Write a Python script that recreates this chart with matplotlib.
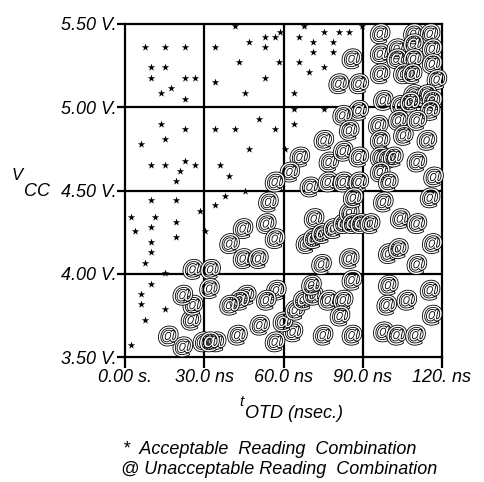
import matplotlib
matplotlib.use("Agg")
import matplotlib.pyplot as plt
import matplotlib.patheffects as pe

# Acceptable (*) points: t_OTD (ns), Vcc (V)
ok_t = [7.5, 15.1, 22.8, 9.7, 15.1, 9.7, 22.8, 26.6, 13.5, 17.3, 22.8,
        41.5, 34.2, 46.8, 52.9, 56.7, 52.9, 58.5, 43.3, 58.2, 34.2, 52.9, 45.3,
        67.8, 75.2, 81.0, 84.8, 89.9, 65.8, 71.1, 78.7, 71.1, 78.7, 65.8, 75.2, 69.6, 63.8, 64.1, 75.2,
        13.5, 22.8, 5.9, 15.1, 9.7, 15.1, 22.8, 26.6, 20.9, 19.2,
        34.2, 41.5, 50.9, 56.7, 47.1, 60.5, 35.9, 39.5, 45.6, 63.8,
        2.2, 3.9, 9.7, 11.5, 9.7, 9.7, 9.7, 7.5, 19.2, 19.2, 19.2, 28.5, 30.4, 15.1, 34.2, 37.7,
        9.7, 5.9, 5.9, 7.5, 15.1, 2.2]
ok_v = [5.36, 5.36, 5.36, 5.24, 5.24, 5.175, 5.175, 5.175, 5.085, 5.115, 5.05,
        5.485, 5.36, 5.39, 5.42, 5.42, 5.36, 5.45, 5.27, 5.27, 5.15, 5.175, 5.085,
        5.485, 5.45, 5.45, 5.45, 5.485, 5.42, 5.39, 5.39, 5.33, 5.33, 5.27, 5.24, 5.21, 5.085, 4.99, 4.99,
        4.90, 4.87, 4.78, 4.81, 4.655, 4.655, 4.68, 4.655, 4.62, 4.56,
        4.87, 4.87, 4.93, 4.87, 4.75, 4.75, 4.655, 4.59, 4.50, 4.90,
        4.34, 4.255, 4.44, 4.34, 4.28, 4.19, 4.13, 4.065, 4.44, 4.31, 4.22, 4.375, 4.255, 4.005, 4.41, 4.465,
        3.94, 3.88, 3.82, 3.725, 3.79, 3.57]

# Unacceptable (@) points
bad_t = [96.5, 109.1, 115.4, 96.5, 102.8, 109.1, 116.2, 102.8, 109.1, 116.2,
         96.5, 105.3, 108.6, 118.0, 97.7, 109.1, 114.2, 116.2, 104.1, 107.8, 115.4,
         85.8, 80.8, 88.4, 88.4, 82.3,
         84.8, 75.2, 66.1, 77.1, 82.5, 88.4, 62.3, 56.7, 69.9, 76.8, 82.5, 88.4,
         95.8, 96.5, 96.5, 103.4, 105.3, 110.4, 114.2, 99.0, 101.5, 110.4, 96.5, 99.6, 116.7,
         54.2, 44.6, 39.5, 44.6, 50.4, 53.4, 56.7, 71.5, 68.4, 71.1, 74.3, 78.7, 82.5, 84.8,
         86.3, 85.8, 88.9, 92.7, 74.3, 84.8, 97.7, 115.4, 104.1, 110.4, 116.2, 99.6, 103.4,
         110.4, 25.6, 32.3,
         85.8, 99.6, 115.4, 99.0, 106.6, 116.2, 97.7, 102.8, 109.9, 85.8, 74.9, 63.5,
         59.7, 64.3, 67.3, 71.1, 76.8, 82.5, 81.3, 70.5, 56.7, 57.2, 53.4, 45.8, 43.3,
         39.5, 50.9, 42.5, 34.4, 29.4, 31.9, 21.8, 16.3, 24.9, 25.6, 21.8, 31.9]
bad_v = [5.45, 5.45, 5.45, 5.33, 5.36, 5.39, 5.36, 5.30, 5.30, 5.27,
         5.21, 5.21, 5.21, 5.175, 5.05, 5.085, 5.085, 5.05, 5.02, 5.04, 4.99,
         5.30, 5.15, 5.15, 4.99, 4.96,
         4.87, 4.81, 4.71, 4.68, 4.745, 4.71, 4.62, 4.56, 4.53, 4.56, 4.56, 4.56,
         4.90, 4.81, 4.71, 4.93, 4.84, 4.93, 4.81, 4.70, 4.71, 4.68, 4.62, 4.56, 4.59,
         4.44, 4.28, 4.19, 4.10, 4.10, 4.31, 4.22, 4.34, 4.19, 4.22, 4.25, 4.28, 4.31, 4.375,
         4.465, 4.31, 4.31, 4.31, 4.065, 4.10, 4.44, 4.465, 4.34, 4.31, 4.19, 4.13, 4.16,
         4.065, 4.035, 4.035,
         3.97, 3.94, 3.91, 3.82, 3.85, 3.76, 3.66, 3.64, 3.64, 3.64, 3.64, 3.66,
         3.72, 3.79, 3.85, 3.88, 3.85, 3.85, 3.755, 3.94, 3.60, 3.91, 3.85, 3.88, 3.85,
         3.82, 3.70, 3.64, 3.60, 3.60, 3.60, 3.57, 3.635, 3.73, 3.82, 3.88, 3.92]

x_ticks = [0, 30, 60, 90, 120]
x_labels = ["0.00 s.", "30.0 ns", "60.0 ns", "90.0 ns", "120. ns"]
y_ticks = [3.5, 4.0, 4.5, 5.0, 5.5]
y_labels = ["3.50 V.", "4.00 V.", "4.50 V.", "5.00 V.", "5.50 V."]

FONT = "Liberation Sans"

fig = plt.figure(figsize=(4.84, 4.82), dpi=100)
ax = fig.add_axes([125 / 484, 1 - 357 / 482, 317 / 484, 333 / 482])
ax.set_xlim(0, 120)
ax.set_ylim(3.5, 5.5)

for xv in x_ticks[1:-1]:
    ax.axvline(xv, color="black", lw=1.6, zorder=1)
for yv in y_ticks[1:-1]:
    ax.axhline(yv, color="black", lw=1.6, zorder=1)
for s in ax.spines.values():
    s.set_linewidth(1.6)

ax.scatter(ok_t, ok_v, marker="*", s=32, color="black", linewidths=0, zorder=3)
outline = [pe.withStroke(linewidth=1.2, foreground="black")]
for t, v in zip(bad_t, bad_v):
    ax.text(t, v, "@", ha="center", va="center_baseline", fontsize=16,
            family=FONT, style="italic", color="white", zorder=4,
            path_effects=outline)

ax.set_xticks(x_ticks)
ax.set_xticklabels(x_labels, family=FONT, style="italic", fontsize=13)
ax.set_yticks(y_ticks)
ax.set_yticklabels(y_labels, family=FONT, style="italic", fontsize=13)
ax.tick_params(axis="x", direction="out", length=8, width=1.6, pad=1)
ax.tick_params(axis="y", direction="out", length=6, width=1.6, pad=0)

fig.text(17 / 484, 1 - 176 / 482, "V", family=FONT, style="italic", fontsize=12,
         ha="center", va="center")
fig.text(37 / 484, 1 - 192 / 482, "CC", family=FONT, style="italic", fontsize=13,
         ha="center", va="center")
fig.text(241 / 484, 1 - 402 / 482, "t", family=FONT, style="italic", fontsize=11,
         ha="center", va="center")
fig.text(245 / 484, 1 - 413 / 482, "OTD (nsec.)", family=FONT, style="italic", fontsize=13,
         ha="left", va="center")
fig.text(123 / 484, 1 - 449 / 482, "*  Acceptable  Reading  Combination", family=FONT,
         style="italic", fontsize=13, ha="left", va="center")
fig.text(121 / 484, 1 - 470 / 482, "@ Unacceptable Reading  Combination", family=FONT,
         style="italic", fontsize=13, ha="left", va="center")

fig.savefig("out.png", dpi=100)
